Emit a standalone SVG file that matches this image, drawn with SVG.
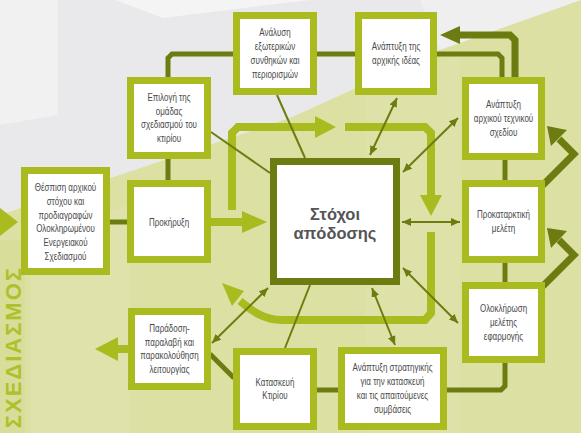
<svg xmlns="http://www.w3.org/2000/svg" width="581" height="433" viewBox="0 0 581 433">
<defs>
<style>
.box{fill:#fff;stroke:#a9bb1f;stroke-width:7}
.core{fill:#fff;stroke:#6d7c10;stroke-width:7}
.lbl{font-family:"Liberation Sans",Arial,sans-serif;font-size:10px;fill:#4a4a4a;text-anchor:middle}
.title{font-family:"Liberation Sans",Arial,sans-serif;font-size:16.5px;font-weight:bold;fill:#555;text-anchor:middle}
.dk{fill:none;stroke:#6d7c10;stroke-width:5}
.dk7{fill:none;stroke:#6d7c10;stroke-width:7}
.lg{fill:none;stroke:#a9bb1f;stroke-width:8}
.thin{fill:none;stroke:#6d7c10;stroke-width:2}
.dbl{fill:none;stroke:#6d7c10;stroke-width:2;marker-start:url(#ah);marker-end:url(#ah)}
.hd{fill:#6d7c10}
.hl{fill:#a9bb1f}
</style>
<marker id="ah" viewBox="0 0 10 10" refX="10" refY="5" markerWidth="9" markerHeight="8" markerUnits="userSpaceOnUse" orient="auto-start-reverse" preserveAspectRatio="none"><path d="M0,0 L10,5 L0,10 Z" fill="#6d7c10"/></marker>
</defs>
<g id="background">
<rect width="581" height="433" fill="#e9e9eb"/>
<polygon points="0,0 58,0 58,115 0,125" fill="#f1f1f2"/>
<polygon points="115,0 163,18 310,0" fill="#f4f4f5"/>
<polygon points="420,0 581,0 581,0 440,50" fill="#efeff0"/>
<polygon points="0,215 290,118 440,50 581,0 581,433 0,433" fill="#dce1a3"/>
<polygon points="30,433 30,240 130,205 130,433" fill="#dfe3ab"/>
<polygon points="365,433 365,90 460,55 460,433" fill="#dee2a9"/>
<rect x="0" y="240" width="25" height="193" fill="#d8dd9a"/>
<polygon points="0,208 18,222 0,236" fill="#a9bb1f"/>
<text transform="translate(21,266) rotate(-90)" text-anchor="end" font-family="Liberation Sans,Arial,sans-serif" font-weight="bold" font-size="22" letter-spacing="2" fill="#b0c02a">ΣΧΕΔΙΑΣΜΟΣ</text>
</g>
<g id="connectors">
<path class="dk" d="M233,54 H172 L168,58 V77"/>
<path class="dk" d="M168,159 V180"/>
<path class="dk" d="M110,222 H127"/>
<path class="dk" d="M317,54 H355"/>
<path class="dk" d="M437,54 H498 L502,58 V77"/>
<path class="dk" d="M505,160 V180"/>
<path class="dk" d="M505,263 V282"/>
<path class="dk" d="M505,363 V386 L501,390 H447"/>
<path class="dk" d="M317,390 H338"/>
<path class="dk" d="M234,378 L210,354"/>
<path class="dk7" d="M515,77 V40 L510,35 H458"/>
<polygon class="hd" points="460,26 440,35 460,44"/>
<path class="dk7" d="M543,185 L574,154 L559,139"/>
<polygon class="hd" points="567,130 547,126 551,146"/>
<path class="dk7" d="M543,286 L574,255 L559,240"/>
<polygon class="hd" points="567,231 547,228 551,248"/>
<path class="lg" d="M211,222 H244"/>
<polygon class="hl" points="242,211 267,222 242,233"/>
<path class="lg" d="M232,210 V133 L238,127 H317"/>
<polygon class="hl" points="315,116 336,127 315,138"/>
<path class="lg" d="M345,127 H425 L431,133 V197"/>
<polygon class="hl" points="420,195 431,216 442,195"/>
<path class="lg" d="M431,232 V313 L425,320 H282 C264,320 252,311 240,301"/>
<polygon class="hl" points="222,283 244,291 232,306"/>
<path class="lg" d="M128,349 H116"/>
<polygon class="hl" points="118,337 95,349 118,361"/>
<path class="thin" d="M211,132 L270,173"/>
<path class="thin" d="M277,95 L305,158"/>
<path class="thin" d="M310,285 L285,348"/>
<path class="dbl" d="M370,155 L397,98"/>
<path class="dbl" d="M403,172 L458,118"/>
<path class="dbl" d="M402,222 L460,222"/>
<path class="dbl" d="M403,268 L458,323"/>
<path class="dbl" d="M372,288 L395,345"/>
<path class="dbl" d="M268,288 L212,343"/>
</g>
<g id="n-thespisi">
<rect class="box" x="24.5" y="170.5" width="82" height="101"/>
<text class="lbl" transform="translate(65.5,222) scale(0.8,1)"><tspan x="0" y="-31.5">Θέσπιση αρχικού</tspan><tspan x="0" y="-17.5">στόχου και</tspan><tspan x="0" y="-3.5">προδιαγραφών</tspan><tspan x="0" y="10.5">Ολοκληρωμένου</tspan><tspan x="0" y="24.5">Ενεργειακού</tspan><tspan x="0" y="38.5">Σχεδιασμού</tspan></text>
</g>
<g id="n-epilogi">
<rect class="box" x="130.5" y="80.5" width="77" height="75"/>
<text class="lbl" transform="translate(169,118) scale(0.8,1)"><tspan x="0" y="-17.5">Επιλογή της</tspan><tspan x="0" y="-3.5">ομάδας</tspan><tspan x="0" y="10.5">σχεδιασμού του</tspan><tspan x="0" y="24.5">κτιρίου</tspan></text>
</g>
<g id="n-prokiryxi">
<rect class="box" x="130.5" y="183.5" width="77" height="76"/>
<text class="lbl" transform="translate(169,222) scale(0.8,1)"><tspan x="0" y="3.5">Προκήρυξη</tspan></text>
</g>
<g id="n-analysi">
<rect class="box" x="236.5" y="15.5" width="77" height="76"/>
<text class="lbl" transform="translate(275,53.5) scale(0.8,1)"><tspan x="0" y="-17.5">Ανάλυση</tspan><tspan x="0" y="-3.5">εξωτερικών</tspan><tspan x="0" y="10.5">συνθηκών και</tspan><tspan x="0" y="24.5">περιορισμών</tspan></text>
</g>
<g id="n-idea">
<rect class="box" x="358.5" y="15.5" width="75" height="76"/>
<text class="lbl" transform="translate(396,53.5) scale(0.8,1)"><tspan x="0" y="-3.5">Ανάπτυξη της</tspan><tspan x="0" y="10.5">αρχικής ιδέας</tspan></text>
</g>
<g id="n-techniko">
<rect class="box" x="465.5" y="80.5" width="76" height="76"/>
<text class="lbl" transform="translate(503.5,118.5) scale(0.8,1)"><tspan x="0" y="-10.5">Ανάπτυξη</tspan><tspan x="0" y="3.5">αρχικού τεχνικού</tspan><tspan x="0" y="17.5">σχεδίου</tspan></text>
</g>
<g id="n-prokatarktiki">
<rect class="box" x="465.5" y="183.5" width="76" height="76"/>
<text class="lbl" transform="translate(503.5,221.5) scale(0.8,1)"><tspan x="0" y="-3.5">Προκαταρκτική</tspan><tspan x="0" y="10.5">μελέτη</tspan></text>
</g>
<g id="n-oloklirosi">
<rect class="box" x="465.5" y="285.5" width="76" height="74"/>
<text class="lbl" transform="translate(503.5,322.5) scale(0.8,1)"><tspan x="0" y="-10.5">Ολοκλήρωση</tspan><tspan x="0" y="3.5">μελέτης</tspan><tspan x="0" y="17.5">εφαρμογής</tspan></text>
</g>
<g id="n-stratigiki">
<rect class="box" x="341.5" y="350.5" width="102" height="76"/>
<text class="lbl" transform="translate(392.5,388.5) scale(0.8,1)"><tspan x="0" y="-17.5">Ανάπτυξη στρατηγικής</tspan><tspan x="0" y="-3.5">για την κατασκευή</tspan><tspan x="0" y="10.5">και τις απαιτούμενες</tspan><tspan x="0" y="24.5">συμβάσεις</tspan></text>
</g>
<g id="n-kataskevi">
<rect class="box" x="236.5" y="351.5" width="77" height="75"/>
<text class="lbl" transform="translate(275,389) scale(0.8,1)"><tspan x="0" y="-3.5">Κατασκευή</tspan><tspan x="0" y="10.5">Κτιρίου</tspan></text>
</g>
<g id="n-paradosi">
<rect class="box" x="131.5" y="311.5" width="76" height="75"/>
<text class="lbl" transform="translate(169.5,349) scale(0.8,1)"><tspan x="0" y="-17.5">Παράδοση-</tspan><tspan x="0" y="-3.5">παραλαβή και</tspan><tspan x="0" y="10.5">παρακολούθηση</tspan><tspan x="0" y="24.5">λειτουργίας</tspan></text>
</g>
<g id="n-stoxoi">
<rect class="core" x="273.5" y="161.5" width="123" height="120"/>
<text class="title"><tspan x="335" y="220">Στόχοι</tspan><tspan x="335" y="239">απόδοσης</tspan></text>
</g>
</svg>
